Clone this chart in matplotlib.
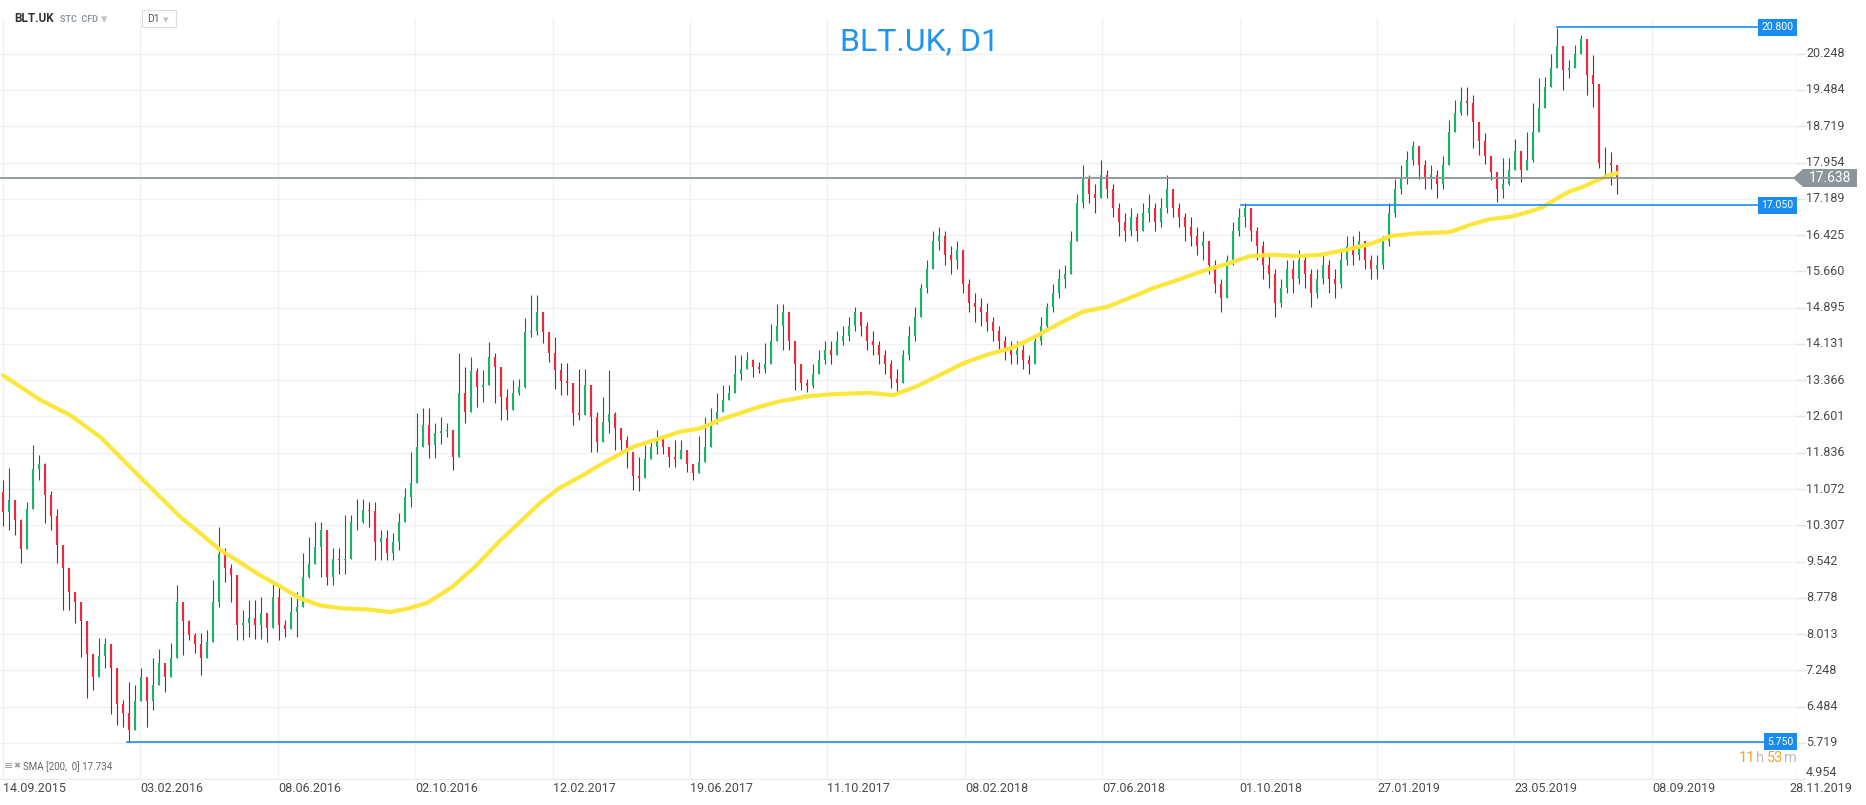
import numpy as np
import matplotlib
matplotlib.use('Agg')
import matplotlib.pyplot as plt
from matplotlib.patches import Polygon, Rectangle
from matplotlib.transforms import blended_transform_factory

plt.rcParams['font.family'] = ['Roboto', 'DejaVu Sans']

# candles, one sample every few sessions
first_open = 11.0
close_a = [10.59, 10.85, 10.42, 9.8, 10.66, 11.5, 11.6, 10.95, 10.5, 9.9,
           9.4, 8.9, 8.7, 8.3, 7.6, 7.1, 7.55, 7.8, 7.3, 6.55,
           6.35, 6.0, 6.6, 7.1, 6.6, 6.95, 7.4, 7.1, 7.5, 8.7,
           8.3, 8.0, 7.8, 7.5, 7.85, 8.7, 9.7, 9.4, 9.25, 8.2,
           8.25, 8.35, 8.2, 8.45, 8.15, 8.8, 8.2, 8.12, 8.48, 8.59,
           9.22, 9.5, 9.85, 10.21, 9.22, 9.6, 9.57, 9.6, 10.38, 10.38,
           10.63, 10.6, 9.95, 10.03, 9.72, 9.96, 10.38, 10.9]
high_a = [11.26, 11.52, 10.71, 10.45, 10.80, 12.0, 11.79, 11.61, 11.02, 10.66,
          9.51, 9.15, 8.87, 8.49, 8.03, 7.19, 7.93, 7.93, 7.29, 6.77,
          6.63, 7.01, 6.94, 7.29, 6.98, 7.50, 7.71, 7.29, 7.82, 9.05,
          8.59, 8.31, 8.03, 8.03, 8.10, 9.15, 10.28, 9.82, 9.50, 8.49,
          8.52, 8.73, 8.73, 8.80, 8.38, 9.08, 9.08, 8.31, 8.80, 8.91,
          9.72, 10.07, 10.38, 10.38, 9.82, 9.82, 9.82, 10.52, 10.52, 10.87,
          10.87, 10.80, 10.80, 10.21, 10.21, 10.14, 10.56, 11.09]
low_a = [10.29, 10.21, 10.10, 9.51, 10.14, 10.88, 11.26, 10.35, 10.21, 9.51,
         8.52, 8.52, 8.24, 7.54, 6.66, 6.84, 7.19, 7.29, 6.34, 6.10,
         6.06, 5.75, 6.20, 6.70, 6.06, 6.41, 7.22, 6.80, 7.29, 8.14,
         7.57, 7.89, 7.61, 7.15, 7.50, 8.28, 8.59, 9.12, 8.70, 7.89,
         7.89, 7.96, 7.92, 7.92, 7.85, 8.52, 7.89, 7.96, 8.38, 7.96,
         8.91, 9.19, 9.65, 9.22, 9.05, 9.05, 9.29, 9.29, 10.21, 10.21,
         10.35, 10.28, 9.58, 9.58, 9.58, 9.58, 9.79, 10.70]

close_b = [11.2, 11.96, 12.42, 12.0, 12.25, 12.3, 12.32, 11.75, 13.1, 12.7,
           13.55, 13.23, 13.26, 13.86, 13.65, 13.02, 12.74, 13.09, 13.23, 14.39,
           14.4, 14.8, 14.39, 13.93, 13.58, 13.35, 13.3, 12.67, 12.63, 13.26,
           12.6, 12.07, 12.49, 12.65, 12.35, 12.1, 11.85, 11.35, 11.3, 11.7,
           11.95, 12.14, 11.95, 11.75, 11.7, 11.9, 11.6, 11.4, 11.65, 11.95,
           12.45, 12.7, 12.95, 13.1, 13.5, 13.6, 13.8, 13.65, 13.6, 13.7,
           14.2, 14.5, 14.8, 14.2, 13.7, 13.3, 13.25]
high_b = [11.86, 12.67, 12.77, 12.77, 12.46, 12.60, 12.46, 12.17, 13.93, 13.65,
          13.86, 13.62, 13.58, 14.18, 13.93, 13.40, 13.19, 13.37, 13.40, 14.67,
          15.16, 15.16, 14.63, 14.21, 14.28, 13.72, 13.72, 13.30, 13.61, 13.61,
          12.77, 12.70, 13.02, 13.59, 12.70, 12.32, 12.18, 11.61, 11.75, 12.0,
          12.11, 12.32, 12.21, 11.89, 12.11, 12.11, 11.82, 11.54, 12.18, 12.60,
          12.77, 13.09, 13.26, 13.26, 13.89, 13.89, 13.96, 13.82, 13.75, 14.14,
          14.56, 14.98, 14.98, 14.46, 13.93, 13.51, 13.40]
low_b = [10.70, 11.75, 12.17, 11.72, 11.72, 12.03, 12.17, 11.47, 12.6, 12.46,
         13.12, 12.81, 12.91, 13.44, 12.88, 12.53, 12.53, 12.84, 13.05, 13.2,
         14.28, 14.32, 14.14, 13.75, 13.19, 13.05, 13.05, 12.42, 12.53, 12.81,
         11.86, 11.86, 12.28, 12.25, 11.89, 11.89, 11.51, 11.05, 11.02, 11.47,
         11.79, 11.82, 11.82, 11.54, 11.54, 11.75, 11.44, 11.26, 11.54, 11.75,
         12.25, 12.53, 13.02, 12.95, 13.37, 13.37, 13.65, 13.44, 13.51, 13.51,
         14.07, 14.56, 14.0, 14.0, 13.16, 13.16, 13.12]

close_c = [13.5, 13.8, 14.0, 13.9, 14.2, 14.3, 14.5, 14.8, 14.5, 14.2,
           14.1, 13.9, 13.7, 13.4, 13.3, 13.9, 14.3, 14.7, 15.3, 15.7,
           16.3, 16.4, 16.0, 15.9, 16.1, 15.4, 15.0, 14.9, 14.8, 14.6,
           14.4, 14.2, 14.0, 13.9, 14.0, 13.8, 13.7, 14.2, 14.5, 14.9,
           15.2, 15.5, 15.6, 16.3, 17.1, 17.6, 17.3, 17.2, 17.7, 17.4,
           17.0, 16.7, 16.5, 16.8, 16.5, 16.9, 17.0, 16.7, 17.0, 17.4,
           17.0, 16.8, 16.6, 16.4, 16.2, 16.3]
high_c = [13.7, 14.0, 14.2, 14.2, 14.4, 14.5, 14.7, 14.9, 14.8, 14.6,
          14.4, 14.2, 14.0, 13.8, 13.6, 14.0, 14.5, 14.9, 15.4, 15.9,
          16.5, 16.6, 16.5, 16.2, 16.3, 16.1, 15.5, 15.2, 15.1, 15.0,
          14.7, 14.5, 14.3, 14.2, 14.2, 14.1, 13.9, 14.3, 14.7, 15.0,
          15.4, 15.7, 15.8, 16.5, 17.3, 17.9, 17.7, 17.5, 18.0, 17.8,
          17.5, 17.1, 16.9, 17.0, 16.9, 17.1, 17.3, 17.1, 17.2, 17.7,
          17.4, 17.1, 16.9, 16.8, 16.6, 16.5]
low_c = [13.2, 13.5, 13.7, 13.7, 13.9, 14.1, 14.2, 14.4, 14.3, 14.0,
         13.9, 13.7, 13.5, 13.2, 13.1, 13.3, 13.8, 14.2, 14.7, 15.2,
         15.7, 16.1, 15.8, 15.6, 15.7, 15.2, 14.8, 14.6, 14.5, 14.4,
         14.2, 14.0, 13.8, 13.7, 13.7, 13.6, 13.5, 13.7, 14.1, 14.4,
         14.8, 15.1, 15.3, 15.6, 16.3, 17.0, 17.1, 16.9, 17.2, 17.2,
         16.8, 16.4, 16.3, 16.4, 16.3, 16.5, 16.7, 16.5, 16.6, 16.9,
         16.8, 16.6, 16.3, 16.2, 16.0, 15.9]

close_d = [15.8, 15.4, 15.1, 15.9, 16.5, 16.8, 17.0, 16.5, 16.2, 15.8,
           15.6, 15.0, 15.3, 15.7, 15.5, 15.9, 15.6, 15.2, 15.5, 15.8,
           15.5, 15.4, 15.9, 16.2, 16.0, 16.3, 15.9, 15.7, 15.8, 16.3,
           16.9, 17.4, 17.6, 18.0, 18.3, 17.9, 17.6, 17.7, 17.5, 17.9,
           18.6, 19.0, 19.25, 19.2, 18.8, 18.4, 18.1, 17.75, 17.4, 17.5,
           17.8, 18.2, 17.8, 18.0, 18.6, 19.1, 19.55, 19.95, 20.4, 19.9,
           19.95, 20.25, 20.55, 19.8, 19.6, 17.95, 17.95, 17.9, 17.64]
high_d = [16.3, 15.9, 15.5, 16.0, 16.7, 17.0, 17.1, 17.0, 16.6, 16.3,
          16.0, 15.7, 15.5, 15.9, 15.9, 16.1, 16.0, 15.7, 15.7, 16.0,
          15.9, 15.7, 16.1, 16.4, 16.4, 16.5, 16.3, 16.0, 16.0, 16.4,
          17.1, 17.6, 17.9, 18.2, 18.4, 18.3, 18.0, 17.9, 17.8, 18.1,
          18.84, 19.27, 19.54, 19.54, 19.38, 18.74, 18.57, 17.86, 17.55, 18.04,
          18.04, 18.46, 18.11, 18.60, 19.2, 19.73, 19.76, 20.25, 20.78, 20.39,
          20.11, 20.43, 20.64, 20.22, 20.22, 18.88, 18.29, 18.18, 17.69]
low_d = [15.6, 15.2, 14.8, 15.1, 15.8, 16.4, 16.6, 16.3, 15.9, 15.5,
         15.3, 14.7, 14.9, 15.2, 15.2, 15.4, 15.3, 14.9, 15.1, 15.4,
         15.2, 15.1, 15.3, 15.8, 15.8, 15.9, 15.7, 15.5, 15.5, 15.7,
         16.2, 16.8, 17.3, 17.5, 17.9, 17.6, 17.4, 17.4, 17.2, 17.4,
         18.39, 18.81, 18.95, 18.95, 18.25, 18.11, 17.93, 17.58, 17.13, 17.20,
         17.48, 17.86, 17.55, 17.83, 17.97, 19.03, 19.31, 19.69, 20.29, 19.48,
         19.73, 19.97, 20.25, 19.38, 19.13, 17.83, 17.66, 17.48, 17.3]

# SMA 200 (bar index, value)
sma_idx = [0, 6.2, 11.2, 16.2, 22.8, 29.5, 36.2, 42.8, 46.2, 49.5,
           52.8, 56.2, 61.2, 64.5, 67.8, 70.8, 74.8, 78.8, 82.8, 86.2, 89.5,
           92.8, 96.2, 99.5, 105, 109.5, 112.8, 116.2, 119.5, 122.8, 126.2,
           129.5, 134.3, 138.3, 144.3, 148.3, 152.2, 156.2, 160.2, 164.2, 168.2,
           172, 176, 180, 184, 188, 191.8, 195.8, 199.8, 203.8, 207.8,
           211.7, 215.7, 219.7, 223.7, 227.7, 231.5, 235.5, 241.2, 244.5, 247.8,
           251.2, 254.5, 256.7, 259, 261.2, 263.3, 265.7, 267.8, 269]
sma_val = [13.47, 12.95, 12.63, 12.17, 11.33, 10.49, 9.79, 9.26, 9.02, 8.77,
           8.62, 8.56, 8.53, 8.48, 8.56, 8.68, 9.0, 9.45, 9.98, 10.38, 10.78,
           11.10, 11.33, 11.58, 11.96, 12.14, 12.28, 12.35, 12.53, 12.67, 12.81,
           12.92, 13.03, 13.07, 13.10, 13.05, 13.23, 13.48, 13.73, 13.91, 14.05,
           14.28, 14.56, 14.81, 14.91, 15.11, 15.31, 15.48, 15.66, 15.81, 15.98,
           16.01, 15.98, 16.01, 16.11, 16.23, 16.41, 16.46, 16.49, 16.64, 16.76,
           16.81, 16.92, 17.02, 17.20, 17.35, 17.44, 17.58, 17.69, 17.73]

ytick_labels = ['20.248', '19.484', '18.719', '17.954', '17.189', '16.425', '15.660',
                '14.895', '14.131', '13.366', '12.601', '11.836', '11.072', '10.307',
                '9.542', '8.778', '8.013', '7.248', '6.484', '5.719', '4.954']
date_labels = ['14.09.2015', '03.02.2016', '08.06.2016', '02.10.2016', '12.02.2017',
               '19.06.2017', '11.10.2017', '08.02.2018', '07.06.2018', '01.10.2018',
               '27.01.2019', '23.05.2019', '08.09.2019']
last_date = '28.11.2019'
last_price = 17.638
sma_last = 17.734
levels = [20.800, 17.050, 5.750]
level_start = [259.0, 206.3, 20.7]

W, H = 1866, 805
fig = plt.figure(figsize=(W / 100, H / 100), dpi=100)
ax = fig.add_axes([0, 26 / H, 1797 / W, 761 / H])
ax.set_xlim(-0.5, 299)
ax.set_ylim(4.96, 21.0)
ax.set_xticks([])
ax.set_yticks([])
for s in ['top', 'left', 'right']:
    ax.spines[s].set_visible(False)
ax.spines['bottom'].set_color('#ececec')

grid_c = '#f1f1f1'
for lab in ytick_labels:
    v = float(lab)
    ax.axhline(v, color=grid_c, lw=1, zorder=0)
    ax.plot([299, 300.3], [v, v], color='#e4e4e4', lw=1, clip_on=False)
    va = 'bottom' if lab == '4.954' else 'center'
    ax.text(300.5, v, lab, ha='left', va=va, fontsize=9, color='#4a4a4a', clip_on=False)

xpos = np.arange(len(date_labels)) * 22.9
trans = blended_transform_factory(ax.transData, ax.transAxes)
for x, lab in zip(xpos, date_labels):
    ax.axvline(x, color=grid_c, lw=1, zorder=0)
    ax.text(x, -0.012, lab, transform=trans, ha='left', va='center', fontsize=9, color='#4a4a4a')
ax.axvline(299, color='#ececec', lw=1, zorder=0)
ax.text(297.7, -0.012, last_date, transform=trans, ha='left', va='center', fontsize=9,
        color='#4a4a4a', clip_on=False)

# candles: open is the previous sample's close
closes = np.array(close_a + close_b + close_c + close_d)
opens = np.concatenate([[first_open], closes[:-1]])
highs = np.maximum(np.array(high_a + high_b + high_c + high_d), np.maximum(opens, closes))
lows = np.minimum(np.array(low_a + low_b + low_c + low_d), np.minimum(opens, closes))
idx = np.arange(len(closes))
up = closes >= opens
ax.vlines(idx[up], lows[up], highs[up], color='#0e6e3e', lw=0.8, zorder=2)
ax.vlines(idx[~up], lows[~up], highs[~up], color='#a3172b', lw=0.8, zorder=2)
ax.vlines(idx[up], opens[up], closes[up], color='#1fb069', lw=1.5, zorder=2)
ax.vlines(idx[~up], opens[~up], closes[~up], color='#ee2840', lw=1.5, zorder=2)

ax.plot(sma_idx, sma_val, color='#fde63a', lw=3, solid_capstyle='round', zorder=3)

# level lines
blue = '#1a8cf0'
ax.axhline(last_price, color='#8b9498', lw=1.3, zorder=4)
for lv, x0 in zip(levels, level_start):
    ax.plot([x0, 299], [lv, lv], color=blue, lw=1.2, zorder=4)
    ax.text(298.4, lv, f'{lv:.3f}', ha='right', va='center', fontsize=7.5, color='white', zorder=5,
            bbox=dict(boxstyle='square,pad=0.3', fc=blue, ec='none'))


def fxy(px, py):
    return px / W, 1 - py / H


pts = [fxy(1793, 178), fxy(1803, 169), fxy(1857, 169), fxy(1857, 187), fxy(1803, 187)]
fig.add_artist(Polygon(pts, closed=True, transform=fig.transFigure, fc='#8c9599', ec='none'))
fig.text(*fxy(1830, 178), f'{last_price:.3f}', ha='center', va='center', fontsize=10, color='white')

# countdown
for px, txt, col in [(1739, '11', '#f5a524'), (1756, 'h', '#bdbdbd'),
                     (1767, '53', '#f5a524'), (1784, 'm', '#bdbdbd')]:
    fig.text(*fxy(px, 758), txt, ha='left', va='center', fontsize=10.5, color=col)

# title and header
fig.text(*fxy(920, 42), 'BLT.UK, D1', ha='center', va='center', fontsize=23, color='#1e96ee')
fig.text(*fxy(14, 19), 'BLT.UK', ha='left', va='center', fontsize=8.5, fontweight='bold', color='#333333')
fig.text(*fxy(60, 19), 'STC  CFD', ha='left', va='center', fontsize=6.5, fontweight='bold', color='#8a99a6')
fig.text(*fxy(101, 20), '▾', ha='left', va='center', fontsize=9, color='#c4c4c4', family='DejaVu Sans')
fig.add_artist(Rectangle(fxy(142, 27), 34 / W, 17 / H, transform=fig.transFigure,
                         fc='white', ec='#dddddd', lw=0.8))
fig.text(*fxy(147, 19), 'D1', ha='left', va='center', fontsize=7.5, color='#555555')
fig.text(*fxy(163, 20), '▾', ha='left', va='center', fontsize=8, color='#c4c4c4', family='DejaVu Sans')

# indicator legend
fig.text(*fxy(4, 766), '≡', ha='left', va='center', fontsize=8, color='#9a9a9a', family='DejaVu Sans')
fig.text(*fxy(13, 766), '✖', ha='left', va='center', fontsize=6, color='#9a9a9a', family='DejaVu Sans')
fig.text(*fxy(23, 767), f'SMA [200,  0] {sma_last}', ha='left', va='center', fontsize=7, color='#666666')

fig.savefig('out.png', dpi=100)
